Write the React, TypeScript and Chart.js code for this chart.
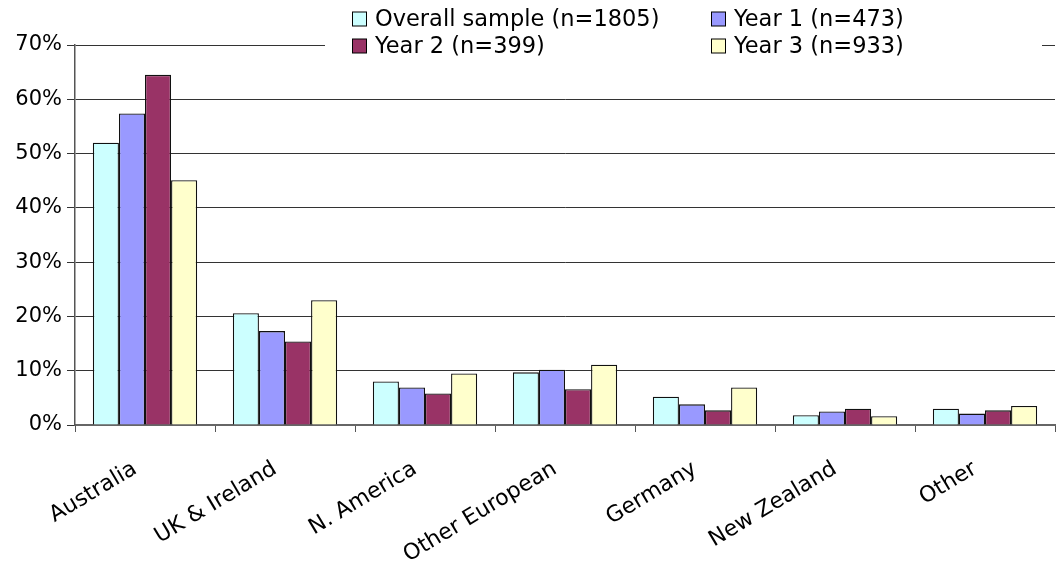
import React, { useEffect, useRef } from "react";
import { Chart, registerables } from "chart.js";

Chart.register(...registerables);

const categories = ["Australia", "UK & Ireland", "N. America", "Other European", "Germany", "New Zealand", "Other"];
const seriesLabels = ["Overall sample (n=1805)", "Year 1 (n=473)", "Year 2 (n=399)", "Year 3 (n=933)"];
const overallSample = [52.0, 20.6, 8.0, 9.7, 5.2, 1.8, 3.0];
const year1 = [57.4, 17.3, 6.9, 10.2, 3.8, 2.5, 2.1];
const year2 = [64.5, 15.4, 5.8, 6.6, 2.7, 3.0, 2.7];
const year3 = [45.1, 23.0, 9.5, 11.1, 6.9, 1.6, 3.5];
const seriesColors = ["#CCFFFF", "#9999FF", "#993366", "#FFFFCC"];
const yTicks = [0, 10, 20, 30, 40, 50, 60, 70];

const FONT = "'DejaVu Sans', sans-serif";

const legendPlugin = {
  id: "boxLegend",
  afterDraw(chart: any) {
    const ctx = chart.ctx;
    ctx.save();
    ctx.fillStyle = "#ffffff";
    ctx.fillRect(325, 0, 717, 62);
    ctx.font = `22.5px ${FONT}`;
    ctx.textBaseline = "middle";
    ctx.textAlign = "left";
    const cols = [352, 711];
    const rows = [19, 46];
    chart.data.datasets.forEach((ds: any, i: number) => {
      const x = cols[i % 2];
      const y = rows[Math.floor(i / 2)];
      ctx.fillStyle = ds.backgroundColor;
      ctx.fillRect(x + 0.5, y - 7, 14, 14);
      ctx.strokeStyle = "#000";
      ctx.lineWidth = 1;
      ctx.strokeRect(x + 0.5, y - 7, 14, 14);
      ctx.fillStyle = "#000";
      ctx.fillText(ds.label, x + 23, y + 1);
    });
    ctx.restore();
  },
};

export default function App() {
  const ref = useRef<HTMLCanvasElement | null>(null);
  useEffect(() => {
    document.body.style.margin = "0";
    const seriesData = [overallSample, year1, year2, year3];
    const chart = new Chart(ref.current!, {
      type: "bar",
      data: {
        labels: categories,
        datasets: seriesData.map((d, i) => ({
          label: seriesLabels[i],
          data: d,
          backgroundColor: seriesColors[i],
          borderColor: "#111",
          borderWidth: 1.3,
          categoryPercentage: 0.745,
          barPercentage: 1,
        })),
      },
      options: {
        animation: false,
        responsive: false,
        devicePixelRatio: 1,
        layout: { padding: { top: 45, right: 3, left: 0, bottom: 0 } },
        plugins: {
          legend: { display: false },
          tooltip: { enabled: false },
        },
        scales: {
          x: {
            offset: true,
            grid: {
              offset: true,
              drawOnChartArea: false,
              drawTicks: true,
              tickLength: 7,
              color: "#555",
            },
            border: { color: "#666", width: 2 },
            ticks: {
              font: { family: FONT, size: 22 },
              color: "#000",
              minRotation: 31,
              maxRotation: 31,
              labelOffset: -10,
              padding: 24,
              autoSkip: false,
            },
            afterFit(scale: any) {
              scale.height = 146;
            },
          },
          y: {
            min: 0,
            max: 70,
            afterBuildTicks(scale: any) {
              scale.ticks = yTicks.map((v) => ({ value: v }));
            },
            grid: {
              color: "#333",
              tickLength: 8,
              lineWidth: 1,
            },
            border: { color: "#555", width: 1.5 },
            ticks: {
              font: { family: FONT, size: 21 },
              color: "#000",
              padding: 5,
              callback: (v: any) => `${v}%`,
            },
            afterFit(scale: any) {
              scale.width = 75;
            },
          },
        },
      },
      plugins: [legendPlugin],
    });
    return () => chart.destroy();
  }, []);
  return (
    <div style={{ width: 1058, height: 571 }}>
      <canvas ref={ref} width={1058} height={571} style={{ display: "block" }} />
    </div>
  );
}
